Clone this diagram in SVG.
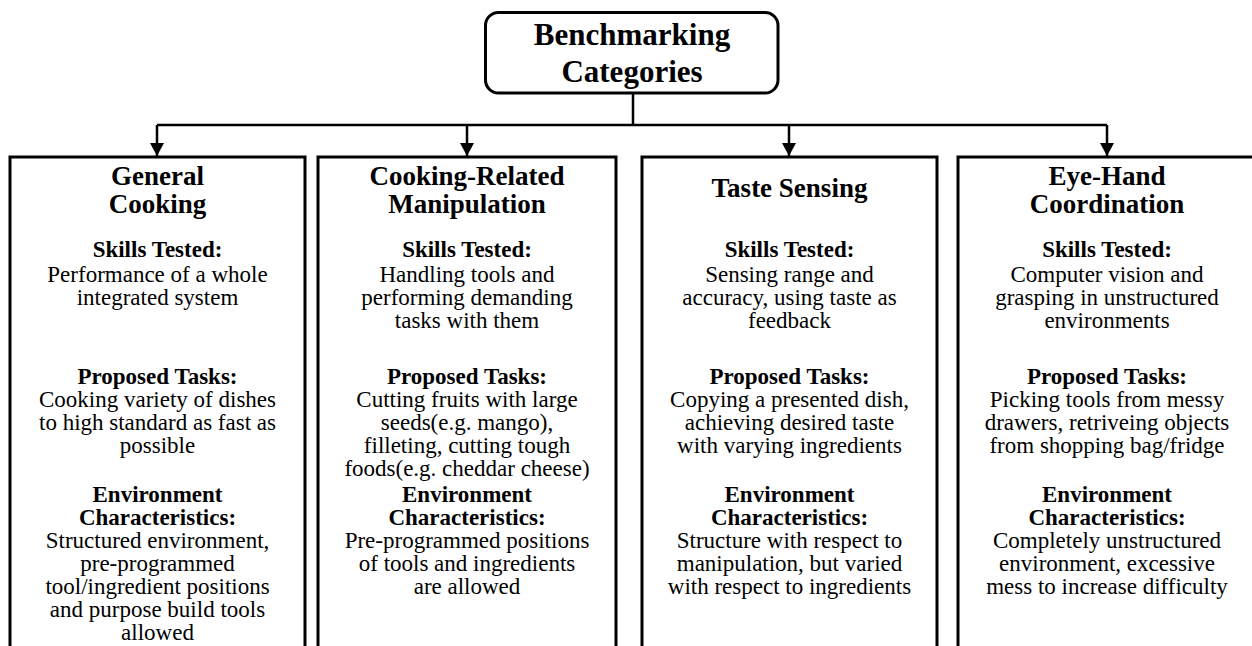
<svg xmlns="http://www.w3.org/2000/svg" width="1252" height="646" viewBox="0 0 1252 646">
<style>
text{font-family:"Liberation Serif","Times New Roman",serif;fill:#000;text-anchor:middle}
.t{font-size:31px;font-weight:bold}
.h{font-size:27px;font-weight:bold}
.s{font-size:23px;font-weight:bold}
.b{font-size:23px}
.box{fill:#fff;stroke:#000;stroke-width:3}
.ln{fill:none;stroke:#000;stroke-width:2.5}
</style>
<defs>
<marker id="ah" markerWidth="13" markerHeight="14" refX="13" refY="7" orient="auto" markerUnits="userSpaceOnUse">
<path d="M0,0 L13,7 L0,14 Z" fill="#000"/>
</marker>
</defs>
<rect width="1252" height="646" fill="#fff"/>
<g id="connectors">
<path class="ln" d="M633,93 V125"/>
<path class="ln" d="M157,125 H1107"/>
<path class="ln" d="M157,125 V156" marker-end="url(#ah)"/>
<path class="ln" d="M467,125 V156" marker-end="url(#ah)"/>
<path class="ln" d="M789,125 V156" marker-end="url(#ah)"/>
<path class="ln" d="M1107,125 V156" marker-end="url(#ah)"/>
</g>
<g id="root">
<rect class="box" x="485.5" y="12.5" width="292.5" height="80.5" rx="13"/>
<text class="t" x="632" y="45">Benchmarking</text>
<text class="t" x="632" y="82">Categories</text>
</g>
<g id="general-cooking">
<path class="box" d="M10,660 V157 H305 V660"/>
<text class="h" x="157.5" y="185">General</text>
<text class="h" x="157.5" y="213">Cooking</text>
<text class="s" x="157.5" y="257">Skills Tested:</text>
<text class="b" x="157.5" y="282">Performance of a whole</text>
<text class="b" x="157.5" y="305">integrated system</text>
<text class="s" x="157.5" y="384">Proposed Tasks:</text>
<text class="b" x="157.5" y="407">Cooking variety of dishes</text>
<text class="b" x="157.5" y="430">to high standard as fast as</text>
<text class="b" x="157.5" y="453">possible</text>
<text class="s" x="157.5" y="502">Environment</text>
<text class="s" x="157.5" y="525">Characteristics:</text>
<text class="b" x="157.5" y="548">Structured environment,</text>
<text class="b" x="157.5" y="571">pre-programmed</text>
<text class="b" x="157.5" y="594">tool/ingredient positions</text>
<text class="b" x="157.5" y="617">and purpose build tools</text>
<text class="b" x="157.5" y="640">allowed</text>
</g>
<g id="cooking-related-manipulation">
<path class="box" d="M318,660 V157 H616 V660"/>
<text class="h" x="467" y="185">Cooking-Related</text>
<text class="h" x="467" y="213">Manipulation</text>
<text class="s" x="467" y="257">Skills Tested:</text>
<text class="b" x="467" y="282">Handling tools and</text>
<text class="b" x="467" y="305">performing demanding</text>
<text class="b" x="467" y="328">tasks with them</text>
<text class="s" x="467" y="384">Proposed Tasks:</text>
<text class="b" x="467" y="407">Cutting fruits with large</text>
<text class="b" x="467" y="430">seeds(e.g. mango),</text>
<text class="b" x="467" y="453">filleting, cutting tough</text>
<text class="b" x="467" y="476">foods(e.g. cheddar cheese)</text>
<text class="s" x="467" y="502">Environment</text>
<text class="s" x="467" y="525">Characteristics:</text>
<text class="b" x="467" y="548">Pre-programmed positions</text>
<text class="b" x="467" y="571">of tools and ingredients</text>
<text class="b" x="467" y="594">are allowed</text>
</g>
<g id="taste-sensing">
<path class="box" d="M642,660 V157 H937 V660"/>
<text class="h" x="789.5" y="197">Taste Sensing</text>
<text class="s" x="789.5" y="257">Skills Tested:</text>
<text class="b" x="789.5" y="282">Sensing range and</text>
<text class="b" x="789.5" y="305">accuracy, using taste as</text>
<text class="b" x="789.5" y="328">feedback</text>
<text class="s" x="789.5" y="384">Proposed Tasks:</text>
<text class="b" x="789.5" y="407">Copying a presented dish,</text>
<text class="b" x="789.5" y="430">achieving desired taste</text>
<text class="b" x="789.5" y="453">with varying ingredients</text>
<text class="s" x="789.5" y="502">Environment</text>
<text class="s" x="789.5" y="525">Characteristics:</text>
<text class="b" x="789.5" y="548">Structure with respect to</text>
<text class="b" x="789.5" y="571">manipulation, but varied</text>
<text class="b" x="789.5" y="594">with respect to ingredients</text>
</g>
<g id="eye-hand-coordination">
<path class="box" d="M958,660 V157 H1260 V660"/>
<text class="h" x="1107" y="185">Eye-Hand</text>
<text class="h" x="1107" y="213">Coordination</text>
<text class="s" x="1107" y="257">Skills Tested:</text>
<text class="b" x="1107" y="282">Computer vision and</text>
<text class="b" x="1107" y="305">grasping in unstructured</text>
<text class="b" x="1107" y="328">environments</text>
<text class="s" x="1107" y="384">Proposed Tasks:</text>
<text class="b" x="1107" y="407">Picking tools from messy</text>
<text class="b" x="1107" y="430">drawers, retriveing objects</text>
<text class="b" x="1107" y="453">from shopping bag/fridge</text>
<text class="s" x="1107" y="502">Environment</text>
<text class="s" x="1107" y="525">Characteristics:</text>
<text class="b" x="1107" y="548">Completely unstructured</text>
<text class="b" x="1107" y="571">environment, excessive</text>
<text class="b" x="1107" y="594">mess to increase difficulty</text>
</g>
</svg>
